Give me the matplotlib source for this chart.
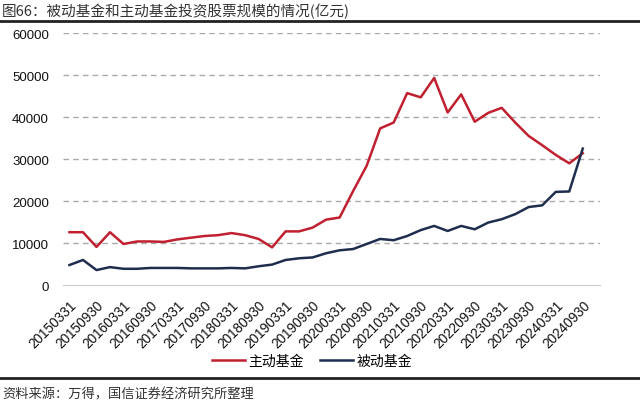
import matplotlib.pyplot as plt
import matplotlib.lines as mlines

plt.rcParams['font.family'] = ['Noto Sans CJK SC', 'DejaVu Sans']

quarters = []
for yr in range(2015, 2025):
    for md in ['0331', '0630', '0930', '1231']:
        quarters.append(f'{yr}{md}')
quarters = quarters[:quarters.index('20240930') + 1]

# 主动基金 (亿元)
active = [12600, 12600, 9100, 12600, 9800, 10400, 10400, 10300, 10900, 11300,
          11700, 11900, 12400, 11900, 11000, 9000, 12800, 12800, 13700, 15600,
          16100, 22400, 28400, 37300, 38700, 45700, 44700, 49300, 41100, 45400,
          38900, 41000, 42200, 38700, 35500, 33300, 31000, 29000, 31400]
# 被动基金 (亿元)
passive = [4800, 6000, 3600, 4300, 3900, 3900, 4100, 4100, 4100, 4000,
           4000, 4000, 4100, 4000, 4500, 4900, 6000, 6400, 6600, 7600,
           8300, 8600, 9800, 11000, 10700, 11700, 13100, 14100, 12900, 14100,
           13300, 14900, 15700, 16900, 18600, 19000, 22200, 22300, 32500]

yticks = [0, 10000, 20000, 30000, 40000, 50000, 60000]

fig = plt.figure(figsize=(6.4, 4.1), dpi=100)
ax = fig.add_axes([0.098, 0.302, 0.84, 0.615])

x = list(range(len(quarters)))
ax.plot(x, active, color='#C0202F', lw=1.8, label='主动基金')
ax.plot(x, passive, color='#1F2D4E', lw=1.8, label='被动基金')

ax.set_ylim(0, 60000)
ax.set_xlim(-0.5, 39.3)
ax.set_yticks(yticks)
ax.set_yticklabels([str(v) for v in yticks], fontsize=9.5, color='#111111',
                   family='Liberation Sans')
ax.set_xticks(x[::2])
ax.set_xticklabels(quarters[::2], rotation=45, ha='right', rotation_mode='anchor',
                   fontsize=9.8, color='#111111', family='Liberation Sans')
ax.tick_params(length=0)
ax.tick_params(axis='x', pad=9)
ax.tick_params(axis='y', pad=10)
for y in yticks[1:]:
    ax.axhline(y, color='#AAAAAA', lw=1, ls=(0, (4, 3)), zorder=0)
for s in ['left', 'right', 'top']:
    ax.spines[s].set_visible(False)
ax.spines['bottom'].set_color('#CCCCCC')

fig.legend(loc='center', bbox_to_anchor=(0.487, 0.118), ncol=2, frameon=False,
           fontsize=10, handlelength=2.4, columnspacing=1.2, handletextpad=0.2)

fig.text(0.003, 0.971, '图66：被动基金和主动基金投资股票规模的情况(亿元)', fontsize=10.5,
         color='#333333', va='center', ha='left')
fig.add_artist(mlines.Line2D([0, 1], [0.947, 0.947], color='#222222', lw=2))
fig.add_artist(mlines.Line2D([0, 1], [0.0756, 0.0756], color='#222222', lw=2))
fig.text(0.003, 0.036, '资料来源：万得，国信证券经济研究所整理', fontsize=9.5,
         color='#333333', va='center', ha='left')

fig.savefig('out.png', dpi=100)
